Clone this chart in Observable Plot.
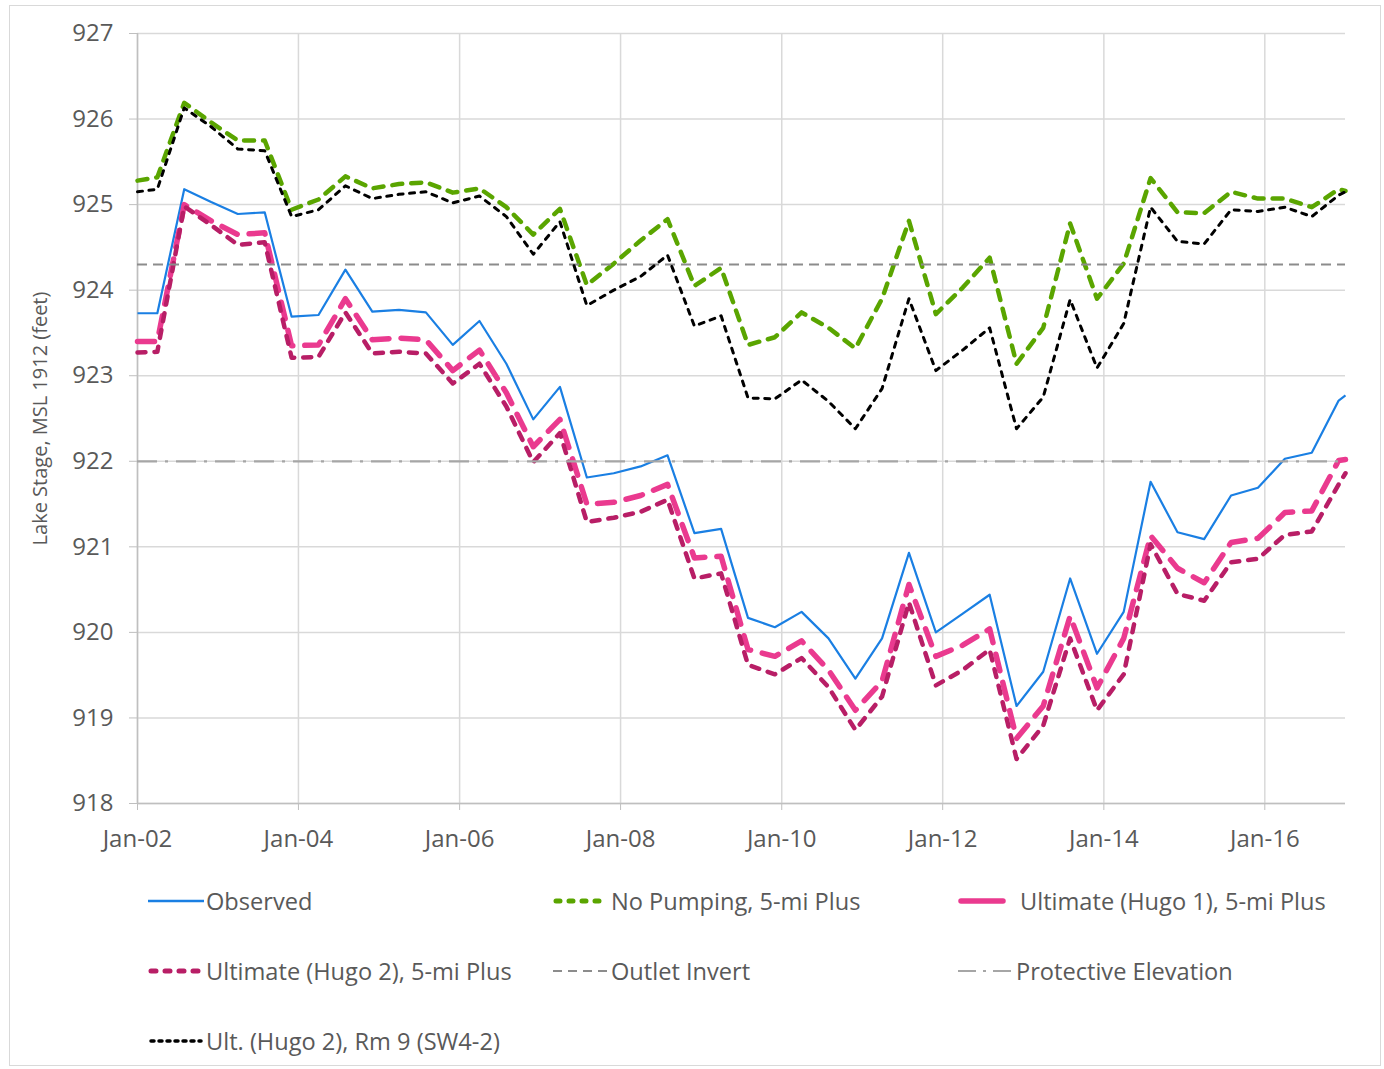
<!DOCTYPE html>
<html>
<head>
<meta charset="utf-8">
<script src="https://cdn.jsdelivr.net/npm/d3@7"></script>
<script src="https://cdn.jsdelivr.net/npm/@observablehq/plot@0.6"></script>
<style>
  html, body { margin: 0; padding: 0; background: #fff; }
  #wrap { position: relative; width: 1384px; height: 1069px; overflow: hidden; font-family: "Open Sans", sans-serif; }
  #frame { position: absolute; left: 9px; top: 5px; width: 1372px; height: 1061px; border: 1px solid #d9d9d9; box-sizing: border-box; pointer-events: none; }
  #chart { position: absolute; left: 0; top: 0; }
  .leg { position: absolute; display: flex; align-items: center; font-size: 23.6px; color: #595959; white-space: nowrap; }
  .leg svg { display: block; }
</style>
</head>
<body>
<div id="wrap">
  <div id="chart"></div>
  <div id="legend"></div>
  <div id="frame"></div>
</div>
<script>
// ---- data ----
const dates = [
  "2002-01-01","2002-04-01","2002-08-01","2002-12-01",
  "2003-04-01","2003-08-01","2003-12-01",
  "2004-04-01","2004-08-01","2004-12-01",
  "2005-04-01","2005-08-01","2005-12-01",
  "2006-04-01","2006-08-01","2006-12-01",
  "2007-04-01","2007-08-01","2007-12-01",
  "2008-04-01","2008-08-01","2008-12-01",
  "2009-04-01","2009-08-01","2009-12-01",
  "2010-04-01","2010-08-01","2010-12-01",
  "2011-04-01","2011-08-01","2011-12-01",
  "2012-04-01","2012-08-01","2012-12-01",
  "2013-04-01","2013-08-01","2013-12-01",
  "2014-04-01","2014-08-01","2014-12-01",
  "2015-04-01","2015-08-01","2015-12-01",
  "2016-04-01","2016-08-01","2016-12-01",
  "2017-01-01"
];

const observed = [
  923.73, 923.73, 925.18, 925.03, 924.89, 924.91, 923.69, 923.71, 924.24, 923.75,
  923.77, 923.74, 923.36, 923.64, 923.14, 922.49, 922.87, 921.81, 921.86, 921.94,
  922.07, 921.16, 921.21, 920.17, 920.06, 920.24, 919.93, 919.46, 919.93, 920.93,
  920.00, 920.22, 920.44, 919.14, 919.54, 920.63, 919.75, 920.24, 921.76, 921.17,
  921.09, 921.60, 921.69, 922.03, 922.10, 922.71, 922.77
];

const noPumping = [
  925.28, 925.32, 926.19, 925.96, 925.75, 925.75, 924.94, 925.06, 925.33, 925.19,
  925.24, 925.26, 925.14, 925.19, 924.97, 924.65, 924.95, 924.06, 924.31, 924.58,
  924.83, 924.05, 924.26, 923.36, 923.45, 923.74, 923.56, 923.32, 923.90, 924.81,
  923.72, 924.03, 924.38, 923.14, 923.56, 924.78, 923.90, 924.31, 925.31, 924.91,
  924.90, 925.15, 925.07, 925.07, 924.97, 925.18, 925.16
];

const hugo1 = [
  923.40, 923.40, 925.00, 924.81, 924.65, 924.67, 923.35, 923.36, 923.90, 923.42,
  923.44, 923.42, 923.06, 923.30, 922.80, 922.17, 922.49, 921.50, 921.52, 921.60,
  921.73, 920.87, 920.89, 919.80, 919.72, 919.90, 919.56, 919.09, 919.43, 920.56,
  919.72, 919.85, 920.04, 918.76, 919.14, 920.19, 919.35, 919.93, 921.13, 920.75,
  920.58, 921.05, 921.10, 921.40, 921.42, 922.01, 922.02
];

const hugo2 = [
  923.27, 923.28, 924.98, 924.76, 924.53, 924.56, 923.21, 923.22, 923.74, 923.26,
  923.28, 923.26, 922.91, 923.14, 922.64, 921.99, 922.33, 921.29, 921.34, 921.41,
  921.55, 920.63, 920.69, 919.62, 919.51, 919.70, 919.36, 918.86, 919.25, 920.35,
  919.38, 919.56, 919.80, 918.52, 918.91, 919.93, 919.09, 919.51, 921.03, 920.45,
  920.37, 920.82, 920.86, 921.14, 921.18, 921.73, 921.86
];

const rm9 = [
  925.15, 925.18, 926.13, 925.91, 925.65, 925.63, 924.86, 924.94, 925.22, 925.07,
  925.12, 925.15, 925.02, 925.10, 924.86, 924.42, 924.80, 923.82, 924.00, 924.16,
  924.41, 923.58, 923.70, 922.74, 922.73, 922.95, 922.70, 922.38, 922.85, 923.90,
  923.06, 923.30, 923.56, 922.38, 922.75, 923.89, 923.09, 923.61, 924.97, 924.57,
  924.54, 924.94, 924.92, 924.97, 924.86, 925.11, 925.15
];

const outletInvert = 924.3;
const protectiveElevation = 922.0;

const xTickDates = ["2002-01-01","2004-01-01","2006-01-01","2008-01-01","2010-01-01","2012-01-01","2014-01-01","2016-01-01"];
const xTickLabels = ["Jan-02","Jan-04","Jan-06","Jan-08","Jan-10","Jan-12","Jan-14","Jan-16"];
const yTicks = [918, 919, 920, 921, 922, 923, 924, 925, 926, 927];
const yTitle = "Lake Stage, MSL 1912 (feet)";

// ---- series styles ----
const series = [
  {name: "Observed", values: observed, stroke: "#1a7fe3", width: 2.2, dash: null, cap: "butt"},
  {name: "No Pumping, 5-mi Plus", values: noPumping, stroke: "#5aa500", width: 4.5, dash: "10 9", cap: "round"},
  {name: "Ultimate (Hugo 1), 5-mi Plus", values: hugo1, stroke: "#ea3a8f", width: 5.5, dash: "17 12", cap: "round"},
  {name: "Ultimate (Hugo 2), 5-mi Plus", values: hugo2, stroke: "#b81e66", width: 4.5, dash: "8 9", cap: "round"},
  {name: "Ult. (Hugo 2), Rm 9 (SW4-2)", values: rm9, stroke: "#000000", width: 3, dash: "5 6.5", cap: "round"}
];

const parse = d3.utcParse("%Y-%m-%d");
const table = (vals) => dates.map((d, i) => ({date: parse(d), value: vals[i]}));

const xTicks = xTickDates.map(parse);
const labelOf = new Map(xTickDates.map((d, i) => [+parse(d), xTickLabels[i]]));

const lineMarks = series.map(s => Plot.line(table(s.values), {
  x: "date", y: "value",
  stroke: s.stroke, strokeWidth: s.width,
  strokeDasharray: s.dash, strokeLinecap: s.cap, strokeLinejoin: "round"
}));

const chart = Plot.plot({
  width: 1384,
  height: 860,
  marginLeft: 137,
  marginRight: 39,
  marginTop: 33,
  marginBottom: 57,
  style: {fontFamily: "'Open Sans', sans-serif", fontSize: "24px", color: "#595959", background: "transparent"},
  x: {type: "utc", domain: [parse("2002-01-01"), parse("2017-01-01")]},
  y: {domain: [918, 927]},
  marks: [
    Plot.gridY(yTicks, {stroke: "#d9d9d9", strokeOpacity: 1, strokeWidth: 1.5}),
    Plot.gridX(xTicks, {stroke: "#d9d9d9", strokeOpacity: 1, strokeWidth: 1.5}),
    Plot.ruleY([918], {stroke: "#bfbfbf", strokeWidth: 1.5}),
    Plot.ruleX([parse("2002-01-01")], {stroke: "#bfbfbf", strokeWidth: 1.5}),
    Plot.axisY(yTicks, {anchor: "left", tickSize: 8, tickPadding: 16, stroke: "#bfbfbf", fill: "#595959", label: null, fontSize: 24,
      tickFormat: d => String(d)}),
    Plot.axisX(xTicks, {anchor: "bottom", tickSize: 7, tickPadding: 19, stroke: "#bfbfbf", fill: "#595959", label: null, fontSize: 24,
      tickFormat: d => labelOf.get(+d)}),
    Plot.text([yTitle], {frameAnchor: "left", dx: -97, rotate: -90, text: d => d, fill: "#595959", fontSize: 20, textAnchor: "middle"}),
    lineMarks[0],
    lineMarks[1],
    lineMarks[2],
    lineMarks[3],
    Plot.ruleY([outletInvert], {stroke: "#8c8c8c", strokeWidth: 2.2, strokeDasharray: "10 6"}),
    Plot.ruleY([protectiveElevation], {stroke: "#a6a6a6", strokeWidth: 2.2, strokeDasharray: "20 8 3 8"}),
    lineMarks[4]
  ]
});
document.getElementById("chart").appendChild(chart);

// ---- legend ----
const legendItems = [
  {name: series[0].name, stroke: series[0].stroke, width: 2.5, dash: null, cap: "butt", x: 148, y: 901},
  {name: series[1].name, stroke: series[1].stroke, width: 5, dash: "4 9", cap: "round", x: 553, y: 901},
  {name: series[2].name, stroke: series[2].stroke, width: 5.5, dash: null, cap: "round", x: 958, y: 901, sw: 48, gap: 14},
  {name: series[3].name, stroke: series[3].stroke, width: 5, dash: "5 9", cap: "round", x: 148, y: 971},
  {name: "Outlet Invert", stroke: "#8c8c8c", width: 2.2, dash: "9 6", cap: "butt", x: 553, y: 971},
  {name: "Protective Elevation", stroke: "#a6a6a6", width: 2.2, dash: "18 7 3 7", cap: "butt", x: 958, y: 971},
  {name: series[4].name, stroke: series[4].stroke, width: 3.5, dash: "3 5", cap: "round", x: 148, y: 1041}
];
const legend = d3.select("#legend");
for (const it of legendItems) {
  const sw = it.sw || 56;
  const div = legend.append("div").attr("class", "leg")
    .style("left", it.x + "px").style("top", (it.y - 20) + "px").style("height", "40px");
  const svg = div.append("svg").attr("width", sw + (it.gap || 2)).attr("height", 40);
  svg.append("line").attr("x1", it.cap === "round" ? 3 : 0).attr("x2", sw - (it.cap === "round" ? 3 : 0))
    .attr("y1", 20).attr("y2", 20)
    .attr("stroke", it.stroke).attr("stroke-width", it.width)
    .attr("stroke-dasharray", it.dash).attr("stroke-linecap", it.cap);
  div.append("span").text(it.name);
}
</script>
</body>
</html>
